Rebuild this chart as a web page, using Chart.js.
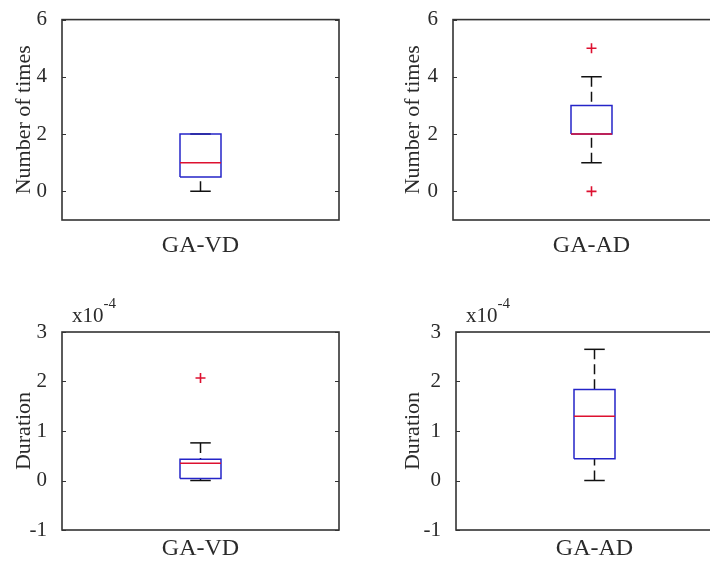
<!DOCTYPE html>
<html>
<head>
<meta charset="utf-8">
<script src="https://cdn.jsdelivr.net/npm/chart.js@4.4.0/dist/chart.umd.min.js"></script>
<style>
  html, body { margin:0; padding:0; background:#fff; width:710px; height:568px; overflow:hidden; }
  .panel { position:absolute; }
</style>
</head>
<body>
<div class="panel" style="left:0;top:0"><canvas id="c1" width="355" height="280"></canvas></div>
<div class="panel" style="left:355px;top:0"><canvas id="c2" width="390" height="280"></canvas></div>
<div class="panel" style="left:0;top:290px"><canvas id="c3" width="355" height="278"></canvas></div>
<div class="panel" style="left:355px;top:290px"><canvas id="c4" width="390" height="278"></canvas></div>
<script>
/* ========= 1.  DATA  ================================================= */
const groups = ['GA-VD', 'GA-AD'];

// number of times (box plot stats per group)
const timesLow      = [0,   1];
const timesQ1       = [0.5, 2];
const timesMedian   = [1,   2];
const timesQ3       = [2,   3];
const timesHigh     = [2,   4];
const timesOutliers = [[],  [0, 5]];
const timesTicks    = [0, 2, 4, 6];

// duration (real values, shown with an x10^-4 multiplier)
const durLow      = [0,       0];
const durQ1       = [0.04e-4, 0.44e-4];
const durMedian   = [0.35e-4, 1.30e-4];
const durQ3       = [0.43e-4, 1.84e-4];
const durHigh     = [0.76e-4, 2.65e-4];
const durOutliers = [[2.07e-4], []];
const durTicks    = [-1e-4, 0, 1e-4, 2e-4, 3e-4];

/* ========= 2.  STYLE  ================================================ */
const FONT   = "'Liberation Serif', 'DejaVu Serif', serif";
const TXT    = '#2a2a2a';
const FRAME  = '#333333';
const BLUE   = '#2424c8';
const RED    = '#dd1030';
const BOX_W  = 0.074;   // half box width, x units
const CAP_W  = 0.037;   // half cap width

/* ========= 3.  FRAME + INWARD TICKS + EXPONENT  ====================== */
const framePlugin = {
  id: 'frame',
  afterDraw (chart, args, opts) {
    const { ctx, chartArea: a, scales: { y } } = chart;
    ctx.save();
    ctx.strokeStyle = FRAME;
    ctx.lineWidth = 1.6;
    ctx.strokeRect(a.left, a.top, a.right - a.left, a.bottom - a.top);
    ctx.lineWidth = 1.2;
    y.ticks.forEach(t => {
      const py = Math.round(y.getPixelForValue(t.value)) + 0.5;
      ctx.beginPath();
      ctx.moveTo(a.left, py);  ctx.lineTo(a.left + 4, py);
      ctx.moveTo(a.right, py); ctx.lineTo(a.right - 4, py);
      ctx.stroke();
    });
    if (opts.exponent) {
      ctx.fillStyle = TXT;
      ctx.textBaseline = 'alphabetic';
      ctx.font = `21px ${FONT}`;
      const x0 = a.left + 10, y0 = a.top - 10;
      ctx.fillText('x10', x0, y0);
      const w = ctx.measureText('x10').width;
      ctx.font = `15px ${FONT}`;
      ctx.fillText(opts.exponent, x0 + w, y0 - 14);
    }
    ctx.restore();
  }
};

/* ========= 4.  BOX PLOT DATASETS  ==================================== */
function boxDatasets (lo, q1, med, q3, hi, outs) {
  const seg = (pts, color, extra) => Object.assign({
    data: pts, showLine: true, borderColor: color, borderWidth: 1.5,
    pointRadius: 0, tension: 0, borderJoinStyle: 'miter'
  }, extra);
  return [
    { data: outs.map(v => ({ x: 1, y: v })), showLine: false,
      pointStyle: 'cross', pointRadius: 5, borderColor: RED, borderWidth: 1.6, order: 0 },
    seg([{ x: 1 - BOX_W, y: med }, { x: 1 + BOX_W, y: med }], RED, { order: 1 }),
    seg([{ x: 1 - BOX_W, y: q1 }, { x: 1 + BOX_W, y: q1 }, { x: 1 + BOX_W, y: q3 },
         { x: 1 - BOX_W, y: q3 }, { x: 1 - BOX_W, y: q1 }], BLUE, { order: 2 }),
    seg([{ x: 1 - CAP_W, y: hi }, { x: 1 + CAP_W, y: hi }], '#111', { order: 3 }),
    seg([{ x: 1 - CAP_W, y: lo }, { x: 1 + CAP_W, y: lo }], '#111', { order: 3 }),
    seg([{ x: 1, y: hi }, { x: 1, y: q3 }], '#111', { order: 4, borderDash: [10, 5] }),
    seg([{ x: 1, y: lo }, { x: 1, y: q1 }], '#111', { order: 4, borderDash: [10, 5] })
  ];
}

/* ========= 5.  PANELS  =============================================== */
function makePanel (id, group, stats, yOpts, lay) {
  new Chart(document.getElementById(id), {
    type: 'scatter',
    data: { datasets: boxDatasets(...stats) },
    plugins: [framePlugin],
    options: {
      responsive: false,
      animation: false,
      layout: { padding: lay.padding },
      plugins: {
        legend: { display: false },
        tooltip: { enabled: false },
        frame: { exponent: yOpts.exponent }
      },
      scales: {
        x: {
          type: 'linear', min: 0.5, max: 1.5,
          grid: { display: false }, border: { display: false },
          afterBuildTicks: s => { s.ticks = [{ value: 1 }]; },
          afterFit: s => { s.height = lay.xHeight; },
          ticks: { padding: lay.xPad, color: TXT, font: { family: FONT, size: 24 },
                   callback: () => groups[group] }
        },
        y: {
          min: yOpts.min, max: yOpts.max,
          grid: { display: false }, border: { display: false },
          afterBuildTicks: s => { s.ticks = yOpts.ticks.map(v => ({ value: v })); },
          afterFit: s => { s.width = lay.yWidth; },
          ticks: { padding: 7, color: TXT, font: { family: FONT, size: 21 },
                   callback: yOpts.fmt },
          title: { display: true, text: yOpts.title, color: TXT,
                   font: { family: FONT, size: 22 }, padding: { top: 3, bottom: 3 } }
        }
      }
    }
  });
}

const timesAxis = { min: -1, max: 6, ticks: timesTicks, title: 'Number of times',
                    fmt: v => v };
const durAxis   = { min: -1e-4, max: 3e-4, ticks: durTicks, title: 'Duration',
                    fmt: v => Math.round(v / 1e-4), exponent: '-4' };

const statsFor = (i, lo, q1, med, q3, hi, outs) => [lo[i], q1[i], med[i], q3[i], hi[i], outs[i]];

document.addEventListener('DOMContentLoaded', () => {
  makePanel('c1', 0, statsFor(0, timesLow, timesQ1, timesMedian, timesQ3, timesHigh, timesOutliers),
            timesAxis, { padding: { left: 8, top: 16, right: 16, bottom: 0 }, yWidth: 54, xHeight: 60, xPad: 3 });
  makePanel('c2', 1, statsFor(1, timesLow, timesQ1, timesMedian, timesQ3, timesHigh, timesOutliers),
            timesAxis, { padding: { left: 42, top: 16, right: 15, bottom: 0 }, yWidth: 56, xHeight: 60, xPad: 3 });
  makePanel('c3', 0, statsFor(0, durLow, durQ1, durMedian, durQ3, durHigh, durOutliers),
            durAxis, { padding: { left: 8, top: 42, right: 16, bottom: 0 }, yWidth: 54, xHeight: 38, xPad: -4 });
  makePanel('c4', 1, statsFor(1, durLow, durQ1, durMedian, durQ3, durHigh, durOutliers),
            durAxis, { padding: { left: 42, top: 42, right: 12, bottom: 0 }, yWidth: 59, xHeight: 38, xPad: -4 });
});
</script>
</body>
</html>
